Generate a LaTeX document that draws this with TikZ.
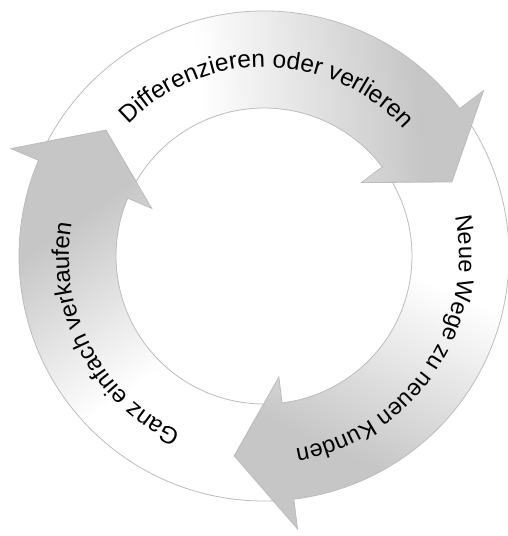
\documentclass[tikz,border=0pt]{standalone}
\usepackage{fontspec}
\newfontfamily\arrowfont{Liberation Sans}
\usetikzlibrary{decorations.text}
\definecolor{arrgray}{RGB}{198,198,198}
\definecolor{ringline}{RGB}{188,188,188}
\pgfdeclarehorizontalshading{arrowshade}{100bp}{color(0bp)=(white); color(42bp)=(white); color(68bp)=(arrgray); color(100bp)=(arrgray)}
\tikzset{
  arrowbody/.style={shading=arrowshade, draw=ringline, line width=0.8pt, line join=miter},
}
% #1 rotation offset (degrees), #2 shading angle
\newcommand{\ringarrow}[2]{%
  \shadedraw[arrowbody, shading angle=#2]
    ({152.14+#1}:245pt) arc[start angle={152.14+#1}, end angle={37+#1}, radius=245pt]
    -- ({37+#1}:275pt) -- ({21.5+#1}:202pt) -- ({37+#1}:122pt) -- ({37+#1}:148pt)
    arc[start angle={37+#1}, end angle={149.83+#1}, radius=148pt]
    -- ({141.5+#1}:202pt) -- cycle;
}
% #1 centre angle, #2 baseline radius, #3 font size, #4 text
\newcommand{\ringtext}[4]{%
  \path[decorate, decoration={text along path, text align=center,
    text={|\arrowfont\fontsize{#3}{28pt}\selectfont|#4}}]
    ({#1+80}:#2) arc[start angle={#1+80}, end angle={#1-80}, radius=#2];
}
\begin{document}
\begin{tikzpicture}
\useasboundingbox (0,0) rectangle (508pt,536pt);
\begin{scope}[shift={(264pt,280pt)}]
  \ringarrow{0}{5}
  \ringarrow{-120}{-115}
  \ringarrow{120}{125}
  \ringtext{89}{189pt}{24.5pt}{Differenzieren oder verlieren}
  \ringtext{-34.5}{195pt}{23.5pt}{Neue Wege zu neuen Kunden}
  \ringtext{207.5}{195pt}{24pt}{Ganz einfach verkaufen}
\end{scope}
\end{tikzpicture}
\end{document}
